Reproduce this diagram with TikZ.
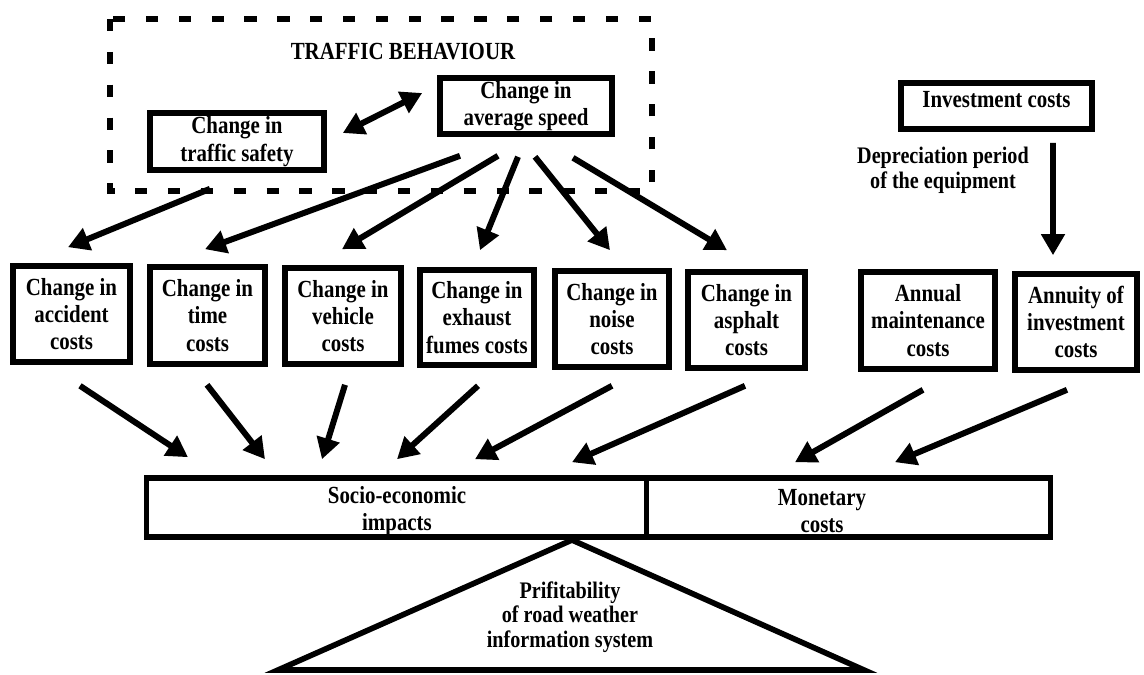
\documentclass[tikz,border=0pt]{standalone}
\usepackage{fontspec}
\setmainfont{Liberation Serif}[FakeStretch=0.85]
\usetikzlibrary{arrows.meta,calc}
\newdimen\pxu \pxu=0.02cm
\newcommand\bxfont{\fontsize{14}{15.5}\selectfont\bfseries}
\newcommand\smfont{\fontsize{13.5}{14}\selectfont\bfseries}
\tikzset{
  box/.style={draw, line width=3.2pt, align=center, inner sep=0pt, font=\bxfont},
  lbl/.style={align=center, inner sep=0pt, font=\bxfont},
  arr/.style={line width=3.4pt, -{Triangle[length=12pt,width=13pt]}},
  darr/.style={line width=3.4pt, {Triangle[length=12pt,width=13pt]}-{Triangle[length=12pt,width=13pt]}},
  dashbox/.style={line width=3.4pt, dash pattern=on 7pt off 11.7pt},
}
\begin{document}
\begin{tikzpicture}[x=0.02cm, y=-0.02cm]
\useasboundingbox (0,0) rectangle (1144,674);
\draw[dashbox] (110,19) rectangle (652,191);
\node[lbl] (tb) at (403,52) {TRAFFIC BEHAVIOUR};
\node[box, minimum width=174\pxu, minimum height=57\pxu] (safety) at (237,141.5) {Change in\\traffic safety};
\node[box, minimum width=172\pxu, minimum height=56\pxu] (speed) at (526,106) {Change in\\average speed};
\node[box, minimum width=191\pxu, minimum height=46\pxu, text depth=14\pxu] (invest) at (996.5,106) {Investment costs};
\node[lbl, font=\smfont] (depr) at (943,170) {Depreciation period\\of the equipment};

\node[box, minimum width=117\pxu, minimum height=96\pxu] (acc) at (71.5,314) {Change in\\accident\\costs};
\node[box, minimum width=115\pxu, minimum height=97\pxu] (time) at (207.5,315.5) {Change in\\time\\costs};
\node[box, minimum width=116\pxu, minimum height=96\pxu] (veh) at (343,316) {Change in\\vehicle\\costs};
\node[box, minimum width=114\pxu, minimum height=95\pxu] (exh) at (477,317.5) {Change in\\exhaust\\fumes costs};
\node[box, minimum width=114\pxu, minimum height=96\pxu] (noise) at (612,319) {Change in\\noise\\costs};
\node[box, minimum width=117\pxu, minimum height=96\pxu] (asph) at (746.5,320) {Change in\\asphalt\\costs};
\node[box, minimum width=134\pxu, minimum height=97\pxu] (maint) at (928,320.5) {Annual\\maintenance\\costs};
\node[box, minimum width=122\pxu, minimum height=96\pxu] (ann) at (1076,322) {Annuity of\\investment\\costs};

\node[box, minimum width=500\pxu, minimum height=59\pxu] (socio) at (396.5,507.5) {};
\node[lbl] (sociotxt) at (397,511) {Socio-economic\\impacts};
\node[box, minimum width=404\pxu, minimum height=59\pxu] (mon) at (848.5,507.5) {};
\node[lbl] (montxt) at (822,511) {Monetary\\costs};

\draw[line width=3.2pt, line join=miter] (572,540) -- (864,670) -- (278,670) -- cycle;
\node[lbl, font=\smfont] (prof) at (570,617) {Prifitability\\of road weather\\information system};

% connectors
\draw[darr] ($(safety.east)+(16,-8.5)$) -- ($(speed.west)+(-15,-13)$);
\draw[arr] ($(safety.south)+(-27,16)$) -- ($(acc.north)+(-3.5,-16)$);
\draw[arr] ($(speed.south)+(-66,19)$) -- ($(time.north)+(-2.5,-15)$);
\draw[arr] ($(speed.south)+(-28,19)$) -- ($(veh.north)+(-1,-16)$);
\draw[arr] ($(speed.south)+(-8,20)$) -- ($(exh.north)+(3,-17)$);
\draw[arr] ($(speed.south)+(9,20)$) -- ($(noise.north)+(-2,-18)$);
\draw[arr] ($(speed.south)+(47,21)$) -- ($(asph.north)+(-19.5,-19)$);
\draw[arr] ($(invest.south)+(56.5,11)$) -- ($(ann.north)+(-23,-16)$);

\draw[arr] ($(acc.south)+(8.5,21)$) -- ($(socio.north)+(-208.5,-18)$);
\draw[arr] ($(time.south)+(-0.5,18)$) -- ($(socio.north)+(-131.5,-16)$);
\draw[arr] ($(veh.south)+(2,18)$) -- ($(socio.north)+(-74.5,-16)$);
\draw[arr] ($(exh.south)+(1,18)$) -- ($(socio.north)+(0.5,-16)$);
\draw[arr] ($(noise.south)+(0,16)$) -- ($(socio.north)+(78.5,-16)$);
\draw[arr] ($(asph.south)+(-1.5,15)$) -- ($(socio.north)+(175.5,-13)$);
\draw[arr] ($(maint.south)+(-5,18)$) -- ($(mon.north)+(-53.5,-13)$);
\draw[arr] ($(ann.south)+(-9,17)$) -- ($(mon.north)+(46.5,-13)$);
\end{tikzpicture}
\end{document}
